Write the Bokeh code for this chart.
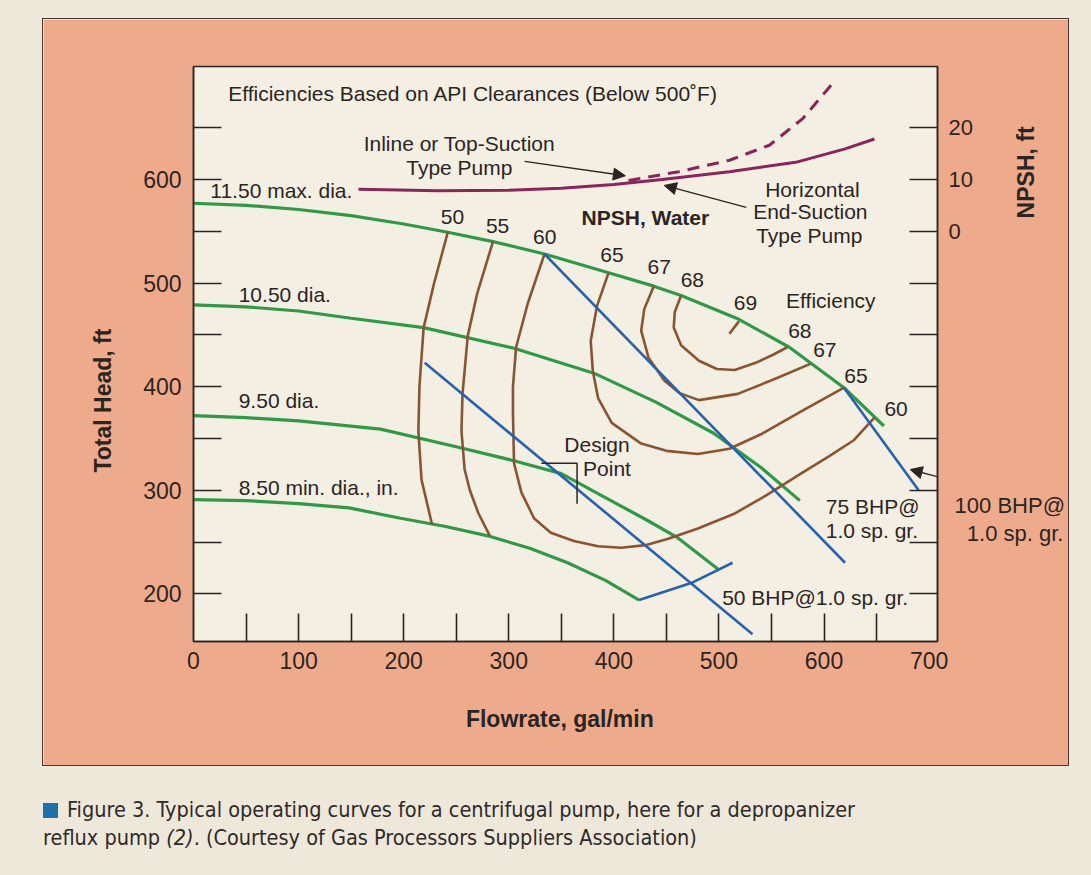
from bokeh.plotting import figure
from bokeh.models import (Range1d, LinearAxis, FixedTicker, Label, Arrow,
                          NormalHead, Div, GlobalInlineStyleSheet)
from bokeh.layouts import column
from bokeh.embed import file_html
from bokeh.resources import INLINE

# ---------------- data ----------------
flow_ticks = [0, 100, 200, 300, 400, 500, 600, 700]
flow_minor = [50, 100, 150, 200, 250, 300, 350, 400, 450, 500, 550, 600, 650]
head_ticks = [200, 300, 400, 500, 600]
head_minor = [200, 250, 300, 350, 400, 450, 500, 550, 600, 650]
npsh_ticks = [0, 10, 20]
npsh_minor = [-70, -60, -50, -40, -30, -20, -10, 0, 10, 20]

# impeller diameter head curves (flow gpm, head ft)
d1150_q = [0, 50, 100, 150, 200, 242, 285, 334, 395, 438, 464, 519, 567, 619, 657]
d1150_h = [577, 575, 571, 565, 557, 549, 540, 528, 510, 497, 488, 465, 438, 399, 362]
d1050_q = [0, 50, 100, 150, 219, 305, 381, 440, 495, 540, 577]
d1050_h = [479, 477, 473, 466, 457, 437, 413, 385, 355, 322, 290]
d950_q = [0, 50, 100, 178, 254, 305, 350, 388, 430, 461, 499]
d950_h = [372, 370, 367, 359, 341, 328.5, 316, 295, 272, 254, 224]
d850_q = [0, 50, 100, 148, 197, 240, 280, 320, 356, 392, 424]
d850_h = [291, 290, 287, 283, 273, 265, 256, 244, 230, 213, 194]

# end-of-curve line and brake horsepower lines
eoc_q = [424, 475, 513]
eoc_h = [194, 211, 230]
bhp50_q = [220, 532]
bhp50_h = [423, 161]
bhp75_q = [334, 620]
bhp75_h = [528, 230]
bhp100_q = [619, 690]
bhp100_h = [399, 300]
bhp100_label_h = [285, 258]     # head level of the two lines of the "100 BHP" note

# efficiency contours
eff50_q = [242, 229, 219, 215, 214, 217, 227]
eff50_h = [549, 500, 457, 400, 357, 310, 267]
eff55_q = [285, 270, 261, 256, 255, 258, 263, 271, 282]
eff55_h = [540, 490, 449, 393, 357, 320, 300, 278, 256]
eff60_q = [334, 318, 307, 304, 304, 305, 312, 324, 340, 362, 385, 407, 430, 451,
           480, 514, 545, 578, 605, 628, 648]
eff60_h = [528, 480, 438, 400, 374, 326, 298, 273, 259, 251, 246, 244.5, 247, 253,
           263, 277, 295, 316, 333, 348, 370]
eff65_q = [395, 384, 378, 380, 385, 398, 426, 450, 480, 510, 540, 580, 619]
eff65_h = [510, 478, 444, 415, 389, 365, 345, 338, 335, 340, 354, 377, 399]
eff67_q = [438, 429, 426, 433, 448, 462, 481, 518, 557, 587]
eff67_h = [497, 475, 454, 428, 406, 394, 387, 393, 409, 422]
eff68_q = [464, 458, 457, 464, 481, 498, 515, 535, 552, 565]
eff68_h = [488, 472, 457, 440, 425, 417, 416, 423, 431, 438]
eff69_q = [510, 519]
eff69_h = [451, 463]

# NPSH curves (flow gpm, NPSH ft)
npsh_end_q = [157, 233, 300, 350, 400, 446, 510, 573, 620, 648]
npsh_end = [8.1, 7.8, 7.9, 8.3, 9.0, 10.0, 11.5, 13.3, 15.9, 17.8]
npsh_inline_q = [414, 462, 510, 548, 580, 608]
npsh_inline = [9.8, 11.5, 13.7, 16.6, 21.8, 28.5]

design_q = 365
design_h = 326

# ---------------- styling ----------------
SALMON = "#eeab8b"
PLOT_BG = "#f4efe3"
PAGE_BG = "#eee8da"
DARK = "#2b2522"
GREEN = "#2e9a47"
BROWN = "#8b5430"
BLUE = "#2762b0"
MAGENTA = "#8c2459"
FONT = "Liberation Sans"

HEAD0, HEAD1 = 154, 709
NPSH_ZERO_HEAD, HEAD_PER_NPSH = 550, 5.0


def to_npsh(h):
    return (h - NPSH_ZERO_HEAD) / HEAD_PER_NPSH


p = figure(frame_width=744, frame_height=575, x_range=Range1d(0, 708),
           y_range=Range1d(HEAD0, HEAD1),
           output_backend="svg", toolbar_location=None,
           min_border_left=150, min_border_right=131,
           min_border_top=47, min_border_bottom=124,
           border_fill_color=SALMON, background_fill_color=PLOT_BG,
           outline_line_color=DARK, outline_line_width=1.5,
           margin=(19, 0, 0, 43),
           styles={"outline": "1.5px solid #4a3a33"})
p.xgrid.visible = False
p.ygrid.visible = False

p.extra_y_ranges = {"npsh": Range1d(to_npsh(HEAD0), to_npsh(HEAD1))}
raxis = LinearAxis(y_range_name="npsh")
p.add_layout(raxis, "right")


def style_axis(ax, ticks, minor, size="23px"):
    ax.ticker = FixedTicker(ticks=ticks, minor_ticks=minor)
    ax.major_tick_in = 0
    ax.major_tick_out = 0
    ax.minor_tick_in = 28
    ax.minor_tick_out = 0
    ax.minor_tick_line_color = DARK
    ax.minor_tick_line_width = 1.6
    ax.axis_line_color = DARK
    ax.axis_line_width = 1.5
    ax.major_label_text_font = FONT
    ax.major_label_text_font_size = size
    ax.major_label_text_color = DARK


xa = p.xaxis[0]
style_axis(xa, flow_ticks, flow_minor)
xa.major_label_standoff = 10

ya = p.yaxis[0]
style_axis(ya, head_ticks, head_minor)
ya.major_label_standoff = 12

# right axis: NPSH ticks, plus the "100 BHP" note that sits beside it
note_pos = [to_npsh(h) for h in bhp100_label_h]
style_axis(raxis, npsh_ticks + note_pos, npsh_minor, size="22px")
raxis.major_label_standoff = 11
raxis.major_label_overrides = {note_pos[0]: "\u00a0100 BHP@",
                               note_pos[1]: "\u00a0\u00a0\u00a01.0 sp. gr."}

# ---------------- curves ----------------
for q, h in [(d1150_q, d1150_h), (d1050_q, d1050_h), (d950_q, d950_h), (d850_q, d850_h)]:
    p.line(q, h, line_color=GREEN, line_width=3.2)

for q, h in [(eff50_q, eff50_h), (eff55_q, eff55_h), (eff60_q, eff60_h),
             (eff65_q, eff65_h), (eff67_q, eff67_h), (eff68_q, eff68_h),
             (eff69_q, eff69_h)]:
    p.line(q, h, line_color=BROWN, line_width=2.6)

for q, h in [(bhp50_q, bhp50_h), (bhp75_q, bhp75_h), (bhp100_q, bhp100_h), (eoc_q, eoc_h)]:
    p.line(q, h, line_color=BLUE, line_width=2.6)

p.line(npsh_end_q, npsh_end, y_range_name="npsh", line_color=MAGENTA, line_width=3)
p.line(npsh_inline_q, npsh_inline, y_range_name="npsh", line_color=MAGENTA,
       line_width=3, line_dash="12 8")

# design point bracket
p.line([design_q - 34, design_q, design_q], [design_h, design_h, design_h - 39],
       line_color=DARK, line_width=1.5)


# ---------------- annotations ----------------
def mk(x, y, text, align="center", size="21px", style="normal", angle=0):
    return Label(x=x, y=y, text=text, text_align=align, text_baseline="middle",
                 text_font=FONT, text_font_size=size, text_font_style=style,
                 text_color=DARK, angle=angle, angle_units="deg")


def lab(*args, **kw):
    p.add_layout(mk(*args, **kw))


lab(33, 683, "Efficiencies Based on API Clearances (Below 500˚F)", align="left")
lab(253, 634.8, "Inline or Top-Suction")
lab(253, 611.6, "Type Pump")
lab(589, 590.3, "Horizontal")
lab(587, 569, "End-Suction")
lab(586, 546, "Type Pump")
lab(430, 563, "NPSH, Water", style="bold")
lab(16, 589.4, "11.50 max. dia.", align="left")
lab(43, 489, "10.50 dia.", align="left")
lab(43, 386.5, "9.50 dia.", align="left")
lab(43, 302.4, "8.50 min. dia., in.", align="left")

for ex, ey, et in [(246.4, 563.3, "50"), (289.4, 554.6, "55"), (334.3, 544, "60"),
                   (398.3, 527.5, "65"), (443.2, 515, "67"), (474.7, 503.4, "68"),
                   (525.3, 481.2, "69"), (577, 454, "68"), (600.8, 435.7, "67"),
                   (630.4, 410.6, "65"), (668.6, 378.7, "60")]:
    lab(ex, ey, et)
lab(606.5, 483, "Efficiency")

lab(384, 344, "Design")
lab(393.5, 320.8, "Point")
lab(601.7, 284, "75 BHP@", align="left")
lab(601.7, 261, "1.0 sp. gr.", align="left")
lab(680, 196, "50 BHP@1.0 sp. gr.", align="right")

# axis titles placed in side panels (drawn unclipped, at their data positions)
p.add_layout(mk(348.6, 79.2, "Flowrate, gal/min", size="23px", style="bold"), "below")
p.add_layout(mk(-86, 386.5, "Total Head, ft", size="23px", style="bold", angle=90), "left")
p.add_layout(mk(792, 606.8, "NPSH, ft", size="23px", style="bold", angle=90), "left")

for xs, ys, xe, ye in [(315, 617.4, 411, 603.5), (526, 573, 448, 594.2),
                       (769, 296.6, 682, 320)]:
    p.add_layout(Arrow(end=NormalHead(size=12, fill_color=DARK, line_color=DARK),
                       x_start=xs, y_start=ys, x_end=xe, y_end=ye,
                       line_color=DARK, line_width=1.4))

caption = Div(
    text=('<span style="display:inline-block;width:15px;height:15px;'
          'background:#1f6fa8;margin-right:9px;vertical-align:-1px"></span>'
          'Figure 3. Typical operating curves for a centrifugal pump, here for a depropanizer'
          '<br>reflux pump <i>(2)</i>. (Courtesy of Gas Processors Suppliers Association)'),
    width=1000,
    margin=(31, 0, 0, 43),
    styles={"font-family": "'Liberation Sans Narrow', 'DejaVu Sans Condensed', sans-serif",
            "font-size": "21.5px", "line-height": "28px", "color": "#2f2a28"})

layout = column(p, caption, styles={"background-color": PAGE_BG},
                stylesheets=[GlobalInlineStyleSheet(css="body { background-color: #eee8da; }")])

open("out.html", "w").write(file_html(layout, INLINE))
